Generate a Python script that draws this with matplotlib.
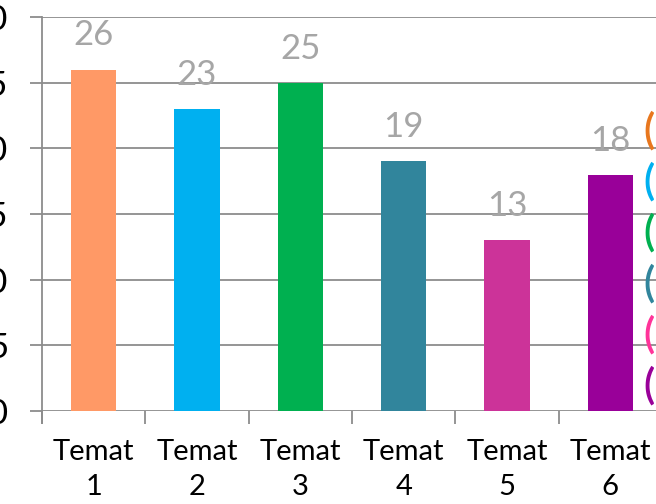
import matplotlib.pyplot as plt
import numpy as np

# ------------------------------------------
# DATA
# ------------------------------------------
categories = ["Temat\n1", "Temat\n2", "Temat\n3", "Temat\n4", "Temat\n5", "Temat\n6"]
values = [26, 23, 25, 19, 13, 18]
bar_colors = ["#FF9966", "#00B0F0", "#00B050", "#31859C", "#CC3399", "#990099"]
legend_labels = ["(26)", "(23)", "(25)", "(19)", "(13)", "(18)"]
legend_colors = ["#E8771E", "#00B0F0", "#00B050", "#31859C", "#FF3399", "#990099"]
y_ticks = [0, 5, 10, 15, 20, 25, 30]

plt.rcParams['font.family'] = ['Lato', 'DejaVu Sans']
grid_color = "#8C8C8C"

fig = plt.figure(figsize=(6.56, 5.04), dpi=100)
ax = fig.add_axes([42 / 656, 1 - 411 / 504, 620 / 656, (411 - 17) / 504])

x = np.arange(len(categories))
ax.bar(x, values, width=0.44, color=bar_colors, zorder=3)

# data labels
for xi, v in zip(x, values):
    ax.annotate(str(v), (xi, v), xytext=(0, 13), textcoords="offset points",
                ha="center", va="bottom", fontsize=25, color="#A6A6A6", zorder=4)

ax.set_xlim(-0.5, 5.5)
ax.set_ylim(0, 30)
ax.set_yticks(y_ticks)
ax.set_yticklabels([str(t) for t in y_ticks], fontsize=25)
ax.set_xticks(x)
ax.set_xticklabels(categories, fontsize=21, linespacing=1.42)
ax.set_xticks(np.arange(-0.5, 6.0, 1.0), minor=True)

ax.yaxis.grid(True, color=grid_color, linewidth=1.3, zorder=0)
ax.tick_params(axis="y", length=8.6, width=1.3, color=grid_color, pad=16)
ax.tick_params(axis="x", which="major", length=0, pad=20)
ax.tick_params(axis="x", which="minor", length=9, width=1.3, color=grid_color)

for side in ["top", "right", "bottom"]:
    ax.spines[side].set_visible(False)
ax.spines["left"].set_color(grid_color)
ax.spines["left"].set_linewidth(1.3)
ax.spines["left"].set_bounds(-0.9, 30)

# cut-off legend on the right
for i, (lab, col) in enumerate(zip(legend_labels, legend_colors)):
    fig.text(643 / 656, 1 - (131 + i * 51) / 504, lab, color=col, fontsize=30,
             ha="left", va="center", fontweight="semibold")

fig.savefig("out.png", dpi=100)
